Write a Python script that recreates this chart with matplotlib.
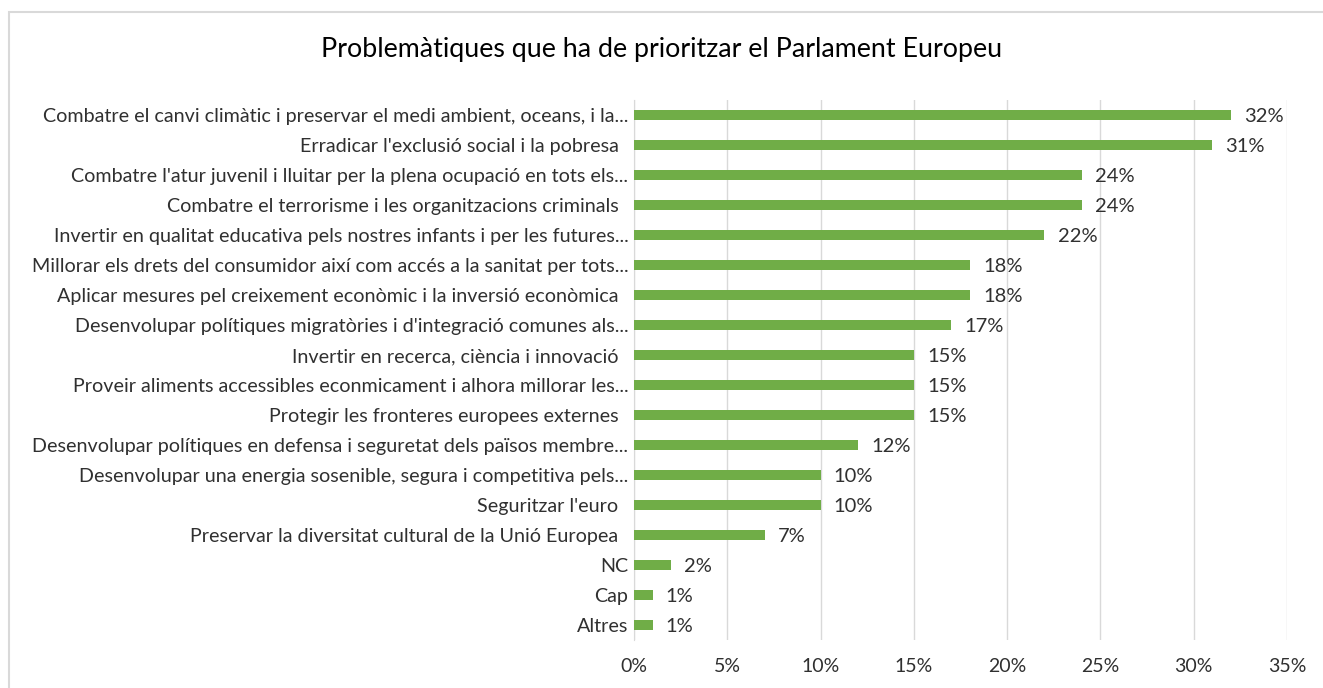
import matplotlib.pyplot as plt
from matplotlib.patches import Rectangle

# Problemàtiques que ha de prioritzar el Parlament Europeu (% respostes)
labels = [
    "Combatre el canvi climàtic i preservar el medi ambient, oceans, i la...",
    "Erradicar l'exclusió social i la pobresa  ",
    "Combatre l'atur juvenil i lluitar per la plena ocupació en tots els...",
    "Combatre el terrorisme i les organitzacions criminals  ",
    "Invertir en qualitat educativa pels nostres infants i per les futures...",
    "Millorar els drets del consumidor així com accés a la sanitat per tots...",
    "Aplicar mesures pel creixement econòmic i la inversió econòmica  ",
    "Desenvolupar polítiques migratòries i d'integració comunes als...",
    "Invertir en recerca, ciència i innovació  ",
    "Proveir aliments accessibles econmicament i alhora millorar les...",
    "Protegir les fronteres europees externes  ",
    "Desenvolupar polítiques en defensa i seguretat dels països membre...",
    "Desenvolupar una energia sosenible, segura i competitiva pels...",
    "Seguritzar l'euro  ",
    "Preservar la diversitat cultural de la Unió Europea  ",
    "NC",
    "Cap",
    "Altres",
]
values = [32, 31, 24, 24, 22, 18, 18, 17, 15, 15, 15, 12, 10, 10, 7, 2, 1, 1]
xticks = [0, 5, 10, 15, 20, 25, 30, 35]

plt.rcParams['font.family'] = ['Lato', 'DejaVu Sans']
text_col = '#303030'
grid_col = '#D9D9D9'

fig = plt.figure(figsize=(13.23, 6.88), dpi=100)
ax = fig.add_axes([634/1323, 1 - 640/688, (1287-634)/1323, 540/688])

ypos = list(range(len(values)))
ax.barh(ypos, values, height=0.34, color='#70AD47', zorder=3)
for y, v in zip(ypos, values):
    ax.text(v + 0.7, y + 0.05, f"{v}%", va='center', ha='left', fontsize=14.5, color=text_col)

ax.set_ylim(len(values) - 0.5, -0.5)
ax.set_xlim(0, 35)
ax.set_yticks(ypos)
ax.set_yticklabels(labels, fontsize=14.2, color=text_col)
ax.set_xticks(xticks)
ax.set_xticklabels([f"{t}%" for t in xticks], fontsize=14, color=text_col)
ax.tick_params(axis='both', length=0)
ax.tick_params(axis='y', pad=4)
ax.tick_params(axis='x', pad=13)
ax.grid(axis='x', color=grid_col, linewidth=1, zorder=0)
for s in ['top', 'right', 'bottom']:
    ax.spines[s].set_visible(False)
ax.spines['left'].set_color(grid_col)

fig.text(0.5, 1 - 50/688, "Problemàtiques que ha de prioritzar el Parlament Europeu",
         ha='center', va='center', fontsize=19.3, color='black')

# chart frame
fig.patches.append(Rectangle((9/1323, -0.05), 1.1, 1 - 12/688 + 0.05,
                             transform=fig.transFigure, fill=False,
                             edgecolor=grid_col, linewidth=1.5))

fig.savefig('out.png', dpi=100)
